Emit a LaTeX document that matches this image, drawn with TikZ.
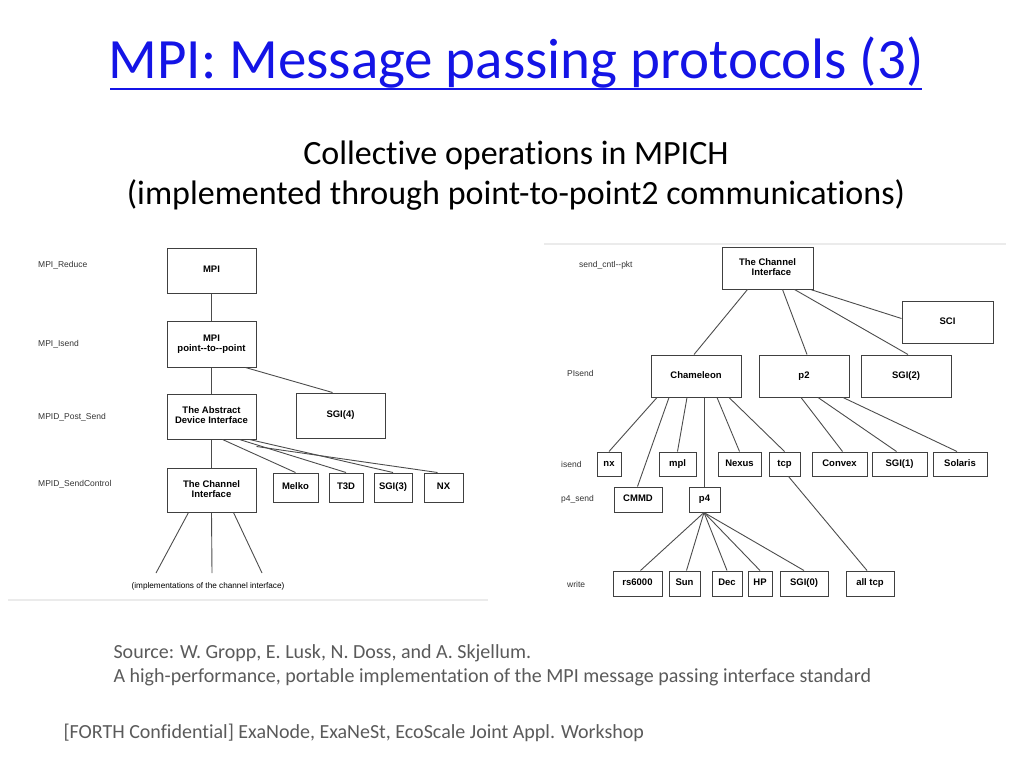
\documentclass[tikz,border=0pt]{standalone}
\usepackage{fontspec}
\setmainfont[Ligatures={NoCommon}]{Carlito}
\newfontfamily\hv{Liberation Sans}
\usetikzlibrary{calc}
\definecolor{ttl}{RGB}{20,20,230}
\definecolor{src}{RGB}{90,90,90}
\tikzset{
  bx/.style={draw=black!75,line width=1pt,fill=white,inner sep=0pt,font=\hv\bfseries\fontsize{9.5}{10}\selectfont,align=center},
  lb/.style={anchor=west,font=\hv\fontsize{8.5}{9}\selectfont,text=black!80,inner sep=0pt},
  ln/.style={draw=black!70,line width=0.9pt},
  sep/.style={draw=black!8,line width=2pt}
}
\newcommand{\B}[6]{\node[bx,minimum width=#4-#2,minimum height=#5-#3] (#1) at ({(#2+#4)/2},{(#3+#5)/2}) {\vphantom{Ag(}#6\vphantom{Ag(}};}
\begin{document}
\begin{tikzpicture}[x=1pt,y=-1pt]
\useasboundingbox (0,0) rectangle (1024,768);
\node[font=\fontsize{57}{60}\selectfont,text=ttl] (title) at (516,63) {MPI: Message passing protocols (3)};
\draw[ttl,line width=1.6pt] (110,89) -- (922,89);
\node[font=\fontsize{34}{40}\selectfont,align=center] (sub) at (516,176) {Collective operations in MPICH\\(implemented through point-to-point2 communications)};
% left diagram
\draw[sep] (8,600) -- (488,600);
\node[lb] (l1) at (38,265) {MPI\_Reduce};
\node[lb] (l2) at (38,344) {MPI\_Isend};
\node[lb] (l3) at (38,417) {MPID\_Post\_Send};
\node[lb] (l4) at (38,484) {MPID\_SendControl};
\B{mpi}{167}{248}{256}{293}{MPI}
\B{p2p}{167}{321}{256}{367}{MPI\\point--to--point}
\B{adi}{167}{394}{256}{439}{The Abstract\\Device Interface}
\B{sgi4}{296}{393}{385}{438}{SGI(4)}
\B{chl}{167}{468}{256}{512}{The Channel\\Interface}
\B{melko}{273}{473}{318}{502}{Melko}
\B{t3d}{329}{473}{363}{502}{T3D}
\B{sgi3}{374}{473}{412}{502}{SGI(3)}
\B{nx}{424}{473}{463}{502}{NX}
\node[font=\hv\fontsize{8.2}{9}\selectfont] (impl) at (208,586) {(implementations of the channel interface)};
\coordinate (i1) at (156,573); \coordinate (i2) at (212,573); \coordinate (i3) at (262,573);
\draw[ln] (mpi) -- (p2p);
\draw[ln] (p2p) -- (adi);
\draw[ln] (adi) -- (chl);
\draw[ln] ([xshift=34pt]p2p.south) -- ([xshift=-8pt]sgi4.north);
\draw[ln] ([xshift=11pt]adi.south) -- (melko.north);
\draw[ln] ([xshift=28pt]adi.south) -- (t3d.north);
\draw[ln] ([xshift=38pt]adi.south) -- (sgi3.north);
\draw[ln] ([yshift=-7pt]adi.south east) -- ([xshift=-6pt]nx.north);
\draw[ln] ([xshift=-23pt]chl.south) -- (i1);
\draw[ln] (chl.south) -- (i2);
\draw[ln] ([xshift=22pt]chl.south) -- (i3);
% right diagram
\draw[sep] (544,244) -- (1006,244);
\node[lb] (r1) at (579,265) {send\_cntl--pkt};
\node[lb] (r2) at (567,373) {PIsend};
\node[lb] (r3) at (561,464) {isend};
\node[lb] (r4) at (561,499) {p4\_send};
\node[lb] (r5) at (567,584) {write};
\B{ci}{722}{247}{813}{289}{The Channel\\\ \ \ Interface}
\B{sci}{902}{301}{993}{343}{SCI}
\B{cham}{651}{355}{741}{397}{Chameleon}
\B{ptwo}{759}{355}{849}{397}{p2}
\B{sgi2}{861}{355}{951}{397}{SGI(2)}
\B{rnx}{597}{452}{621}{476}{nx}
\B{mpl}{659}{452}{696}{476}{mpl}
\B{nexus}{718}{452}{761}{476}{Nexus}
\B{tcp}{769}{452}{800}{476}{tcp}
\B{convex}{812}{452}{867}{476}{Convex}
\B{sgi1}{872}{452}{927}{476}{SGI(1)}
\B{solaris}{933}{452}{987}{476}{Solaris}
\B{cmmd}{614}{487}{662}{512}{CMMD}
\B{pfour}{689}{487}{720}{512}{p4}
\B{rs}{613}{571}{662}{596}{rs6000}
\B{sun}{669}{571}{700}{596}{Sun}
\B{dec}{712}{571}{742}{596}{Dec}
\B{hp}{748}{571}{772}{596}{HP}
\B{sgi0}{780}{571}{828}{596}{SGI(0)}
\B{alltcp}{846}{571}{894}{596}{all tcp}
\draw[ln] ([xshift=-20pt]ci.south) -- ([xshift=-2pt]cham.north);
\draw[ln] ([xshift=15pt]ci.south) -- ([xshift=3pt]ptwo.north);
\draw[ln] ([xshift=27pt]ci.south) -- ([xshift=2pt]sgi2.north);
\draw[ln] ([xshift=-3pt]ci.south east) -- ([yshift=-18pt]sci.north west);
\draw[ln] ([xshift=-39pt]cham.south) -- (rnx.north);
\draw[ln] ([xshift=-27pt]cham.south) -- ([xshift=-0.5pt]cmmd.north);
\draw[ln] ([xshift=-9pt]cham.south) -- ([xshift=0pt]mpl.north);
\draw[ln] ([xshift=8pt]cham.south) -- ([xshift=-0.5pt]pfour.north);
\draw[ln] ([xshift=21pt]cham.south) -- (nexus.north);
\draw[ln] ([xshift=33pt]cham.south) -- (tcp.north);
\draw[ln] ([xshift=-3pt]ptwo.south) -- ([xshift=3pt]convex.north);
\draw[ln] ([xshift=14pt]ptwo.south) -- ([xshift=-3pt]sgi1.north);
\draw[ln] ([xshift=39pt]ptwo.south) -- ([xshift=-3pt]solaris.north);
\draw[ln] ([xshift=4pt]tcp.south) -- ([xshift=-3pt]alltcp.north);
\draw[ln] ([xshift=-0.5pt]pfour.south) -- ([xshift=3pt]rs.north);
\draw[ln] ([xshift=-0.5pt]pfour.south) -- ([xshift=2pt]sun.north);
\draw[ln] ([xshift=-0.5pt]pfour.south) -- (dec.north);
\draw[ln] ([xshift=-0.5pt]pfour.south) -- (hp.north);
\draw[ln] ([xshift=-0.5pt]pfour.south) -- (sgi0.north);
% source
\node[anchor=west,text=src,font=\fontsize{20}{24}\selectfont,align=left] (source) at (110,665) {Source: W. Gropp, E. Lusk, N. Doss, and A. Skjellum.\\A high-performance, portable implementation of the MPI message passing interface standard};
\node[anchor=west,text=src,font=\fontsize{20}{24}\selectfont] (foot) at (60,733) {[FORTH Confidential] ExaNode, ExaNeSt, EcoScale Joint Appl. Workshop};
\end{tikzpicture}
\end{document}
